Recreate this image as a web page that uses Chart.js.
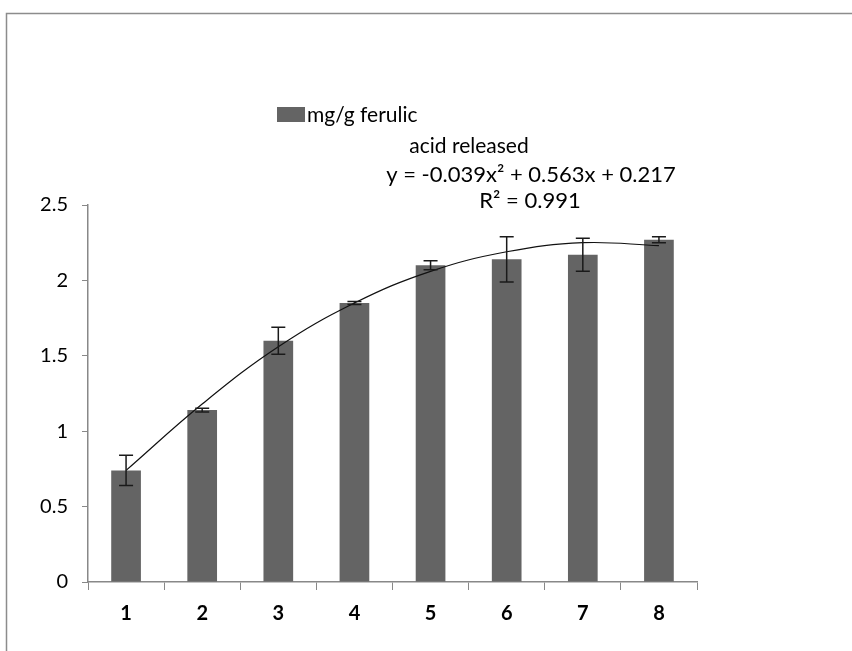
<!DOCTYPE html>
<html>
<head>
<meta charset="utf-8">
<script src="https://cdn.jsdelivr.net/npm/chart.js@4.4.1/dist/chart.umd.min.js"></script>
<style>
  html, body { margin: 0; padding: 0; background: #fff; }
  #wrap { width: 852px; height: 651px; position: relative; }
</style>
</head>
<body>
<div id="wrap"><canvas id="mycanvas" width="852" height="651"></canvas></div>
<script>
// data
var days = ['1', '2', '3', '4', '5', '6', '7', '8'];
var released = [0.74, 1.14, 1.60, 1.85, 2.10, 2.14, 2.17, 2.27];
var errors = [0.10, 0.012, 0.09, 0.01, 0.03, 0.15, 0.11, 0.02];
var trend = [0.74, 1.18, 1.56, 1.85, 2.06, 2.19, 2.25, 2.23];
var yTicks = [0, 0.5, 1, 1.5, 2, 2.5];

var seriesName = ['mg/g ferulic', 'acid released'];
var equation = 'y = -0.039x\u00B2 + 0.563x + 0.217';
var rSquared = 'R\u00B2 = 0.991';

var FONT = 'Lato, "Open Sans", sans-serif';

var errorBars = {
  id: 'errorBars',
  afterDatasetsDraw: function(chart) {
    var ctx = chart.ctx;
    var meta = chart.getDatasetMeta(0);
    var y = chart.scales.y;
    ctx.save();
    ctx.strokeStyle = '#1a1a1a';
    ctx.lineWidth = 1.5;
    for (var i = 0; i < meta.data.length; i++) {
      var x = meta.data[i].x;
      var top = y.getPixelForValue(released[i] + errors[i]);
      var bot = y.getPixelForValue(released[i] - errors[i]);
      ctx.beginPath();
      ctx.moveTo(x, top); ctx.lineTo(x, bot);
      ctx.moveTo(x - 7, top); ctx.lineTo(x + 7, top);
      ctx.moveTo(x - 7, bot); ctx.lineTo(x + 7, bot);
      ctx.stroke();
    }
    ctx.restore();
  }
};

var extras = {
  id: 'extras',
  afterDraw: function(chart) {
    var ctx = chart.ctx;
    ctx.save();
    // outer frame
    ctx.strokeStyle = '#8c8c8c';
    ctx.lineWidth = 1.5;
    ctx.beginPath();
    ctx.moveTo(852, 13.5); ctx.lineTo(6.5, 13.5); ctx.lineTo(6.5, 651);
    ctx.stroke();
    // legend
    ctx.fillStyle = 'rgb(100,100,100)';
    ctx.fillRect(277, 107, 28, 15);
    ctx.fillStyle = '#000';
    ctx.font = '21px ' + FONT;
    ctx.textBaseline = 'middle';
    ctx.textAlign = 'left';
    ctx.fillText(seriesName[0], 307, 115);
    ctx.textAlign = 'center';
    ctx.fillText(seriesName[1], 469, 146);
    ctx.font = '22px ' + FONT;
    ctx.fillText(equation, 531, 175);
    ctx.fillText(rSquared, 530, 201);
    ctx.restore();
  }
};

var ctx = document.getElementById('mycanvas');

var barGraph = new Chart(ctx, {
  data: {
    labels: days,
    datasets: [
      {
        type: 'bar',
        label: seriesName.join(' '),
        backgroundColor: 'rgb(100,100,100)',
        data: released,
        barPercentage: 0.78,
        categoryPercentage: 0.5,
        order: 2
      },
      {
        type: 'line',
        label: 'trend',
        data: trend,
        borderColor: '#111',
        borderWidth: 1.2,
        pointRadius: 0,
        tension: 0.4,
        fill: false,
        order: 1
      }
    ]
  },
  options: {
    responsive: false,
    animation: false,
    layout: { padding: { top: 205, right: 155, left: 0, bottom: 0 } },
    plugins: {
      legend: { display: false },
      tooltip: { enabled: false }
    },
    scales: {
      x: {
        offset: true,
        grid: { drawOnChartArea: false, drawTicks: true, tickLength: 8, color: '#888', offset: true },
        border: { color: '#888', width: 1.5 },
        ticks: { color: '#000', font: { family: FONT, size: 20, weight: 'bold' }, padding: 12 },
        afterFit: function(scale) { scale.height = 69; }
      },
      y: {
        min: 0,
        max: 2.5,
        afterBuildTicks: function(scale) {
          scale.ticks = yTicks.map(function(v) { return { value: v }; });
        },
        grid: { drawOnChartArea: false, drawTicks: true, tickLength: 6, color: '#888' },
        border: { color: '#888', width: 1.5 },
        ticks: {
          color: '#000',
          font: { family: FONT, size: 20 },
          padding: 14,
          callback: function(v) { return String(v); }
        },
        afterFit: function(scale) { scale.width = 88; }
      }
    }
  },
  plugins: [errorBars, extras]
});
</script>
</body>
</html>
